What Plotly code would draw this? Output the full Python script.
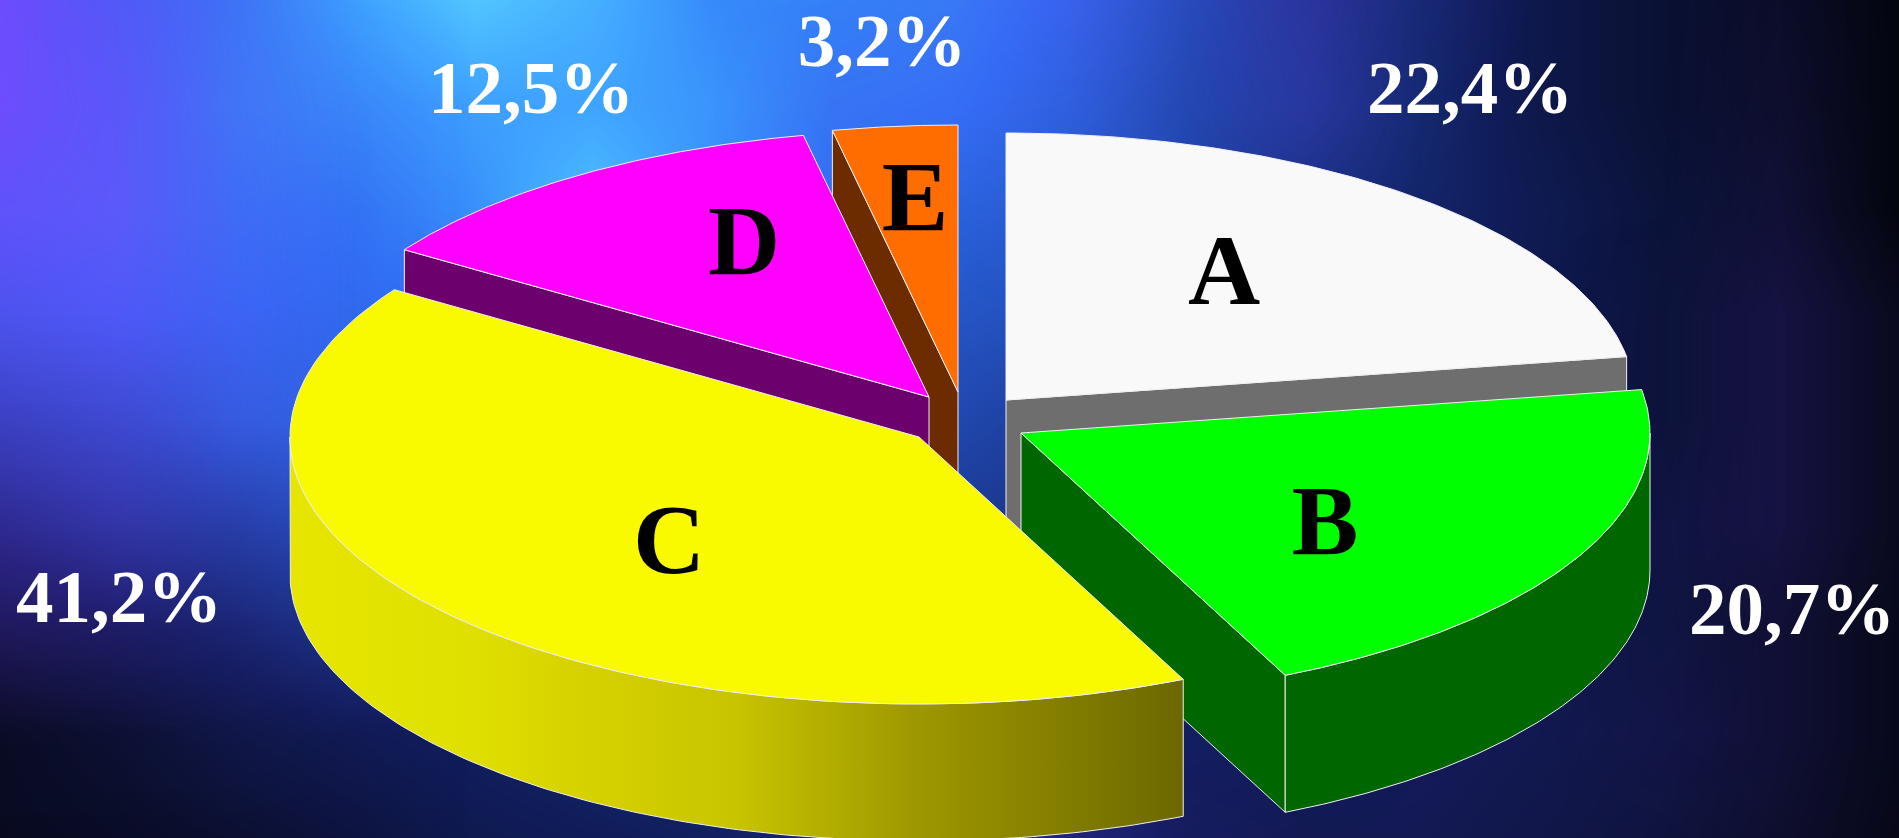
import numpy as np
import plotly.graph_objects as go

# ---- data ----
categories = ["A", "B", "C", "D", "E"]
shares = [22.4, 20.7, 41.2, 12.5, 3.2]

# background brightness (rows top to bottom, cols left to right)
glow = [
    [.60,.62,.66,.78,.95,.85,.70,.66,.66,.58,.44,.32,.26,.16,.10,.05,.00],
    [.62,.64,.68,.70,.78,.80,.74,.64,.62,.54,.42,.34,.26,.16,.10,.05,.00],
    [.62,.66,.64,.62,.72,.92,.72,.60,.54,.50,.40,.30,.24,.18,.12,.06,.00],
    [.55,.60,.60,.58,.60,.70,.60,.53,.48,.44,.36,.28,.22,.17,.11,.07,.02],
    [.40,.46,.54,.56,.52,.50,.45,.42,.42,.36,.30,.26,.20,.16,.11,.07,.02],
    [.24,.32,.38,.46,.48,.40,.35,.35,.35,.32,.27,.25,.20,.16,.12,.07,.02],
    [.10,.16,.24,.32,.30,.30,.30,.28,.28,.26,.24,.22,.20,.16,.12,.06,.02],
    [.04,.08,.14,.18,.22,.25,.28,.25,.25,.24,.21,.21,.19,.16,.12,.06,.02],
    [.03,.05,.08,.12,.18,.20,.22,.24,.22,.23,.19,.17,.17,.14,.11,.05,.01],
]
violet = [
    [1.0,.60,.20,.00,.00,.00,.00,.00,.10,.20,.10,.25,.05,.00,.00,.05,.00],
    [1.0,.70,.25,.05,.00,.00,.00,.10,.10,.10,.05,.20,.00,.00,.00,.08,.00],
    [.80,.70,.25,.05,.00,.00,.00,.05,.00,.05,.00,.05,.00,.00,.00,.10,.00],
    [.55,.55,.25,.05,.00,.00,.00,.00,.00,.00,.00,.00,.00,.00,.03,.15,.05],
    [.40,.40,.20,.05,.00,.00,.00,.00,.00,.00,.00,.00,.00,.00,.03,.15,.05],
    [.35,.35,.15,.05,.00,.00,.00,.00,.00,.00,.00,.00,.00,.03,.05,.15,.05],
    [.25,.20,.10,.05,.00,.00,.00,.00,.00,.00,.00,.00,.03,.03,.05,.10,.03],
    [.05,.05,.05,.03,.00,.00,.00,.00,.00,.00,.03,.03,.05,.05,.08,.10,.03],
    [.03,.03,.03,.03,.00,.00,.00,.10,.20,.20,.08,.05,.05,.05,.05,.08,.03],
]

# ---- styles and geometry ----
W, H = 1899, 838
RX, RY, DEPTH = 629, 267, 137
apex_x = [1006, 1021, 919, 929, 958]
apex_y = [400, 433, 437, 397, 392]
top_colors = ["#f9f9f9", "#00ff00", "#f9f900", "#ff00ff", "#ff6c00"]
side_colors = ["#6e6e6e", "#006600", "#e6e600", "#6c006c", "#6c2c00"]
label_x = [1470, 1792, 119, 531, 882]
label_y = [94, 615, 603, 94, 47]
letter_x = [1224, 1325, 669, 744, 915]
letter_y = [279, 529, 548, 249, 205]
SERIF = "Liberation Serif"
EDGE = dict(color="#f0f0f0", width=1)

edges = np.cumsum([0] + shares) / sum(shares) * 2 * np.pi


def ring(i, a0, a1, dy=0.0, n=120):
    t = np.linspace(a0, a1, n)
    return apex_x[i] + RX * np.sin(t), apex_y[i] - RY * np.cos(t) + dy


def poly(x, y, color, **kw):
    args = dict(fill="toself", fillcolor=color, line=EDGE)
    args.update(kw)
    return go.Scatter(x=list(x) + [x[0]], y=list(y) + [y[0]], mode="lines",
                      hoverinfo="skip", showlegend=False, **args)


fig = go.Figure()

gx = np.linspace(0, W, len(glow[0]))
gy = np.linspace(0, H, len(glow))
fig.add_trace(go.Heatmap(
    x=gx, y=gy, z=glow, zmin=0, zmax=1, zsmooth="best", showscale=False, hoverinfo="skip",
    colorscale=[[0, "#04060e"], [.2, "#101c58"], [.4, "#1f44a8"], [.6, "#2f70f4"],
                [.8, "#3fa4ff"], [1, "#58d0ff"]]))
fig.add_trace(go.Heatmap(
    x=gx, y=gy, z=violet, zmin=0, zmax=1, zsmooth="best", showscale=False, hoverinfo="skip",
    colorscale=[[0, "rgba(110,50,240,0)"], [1, "rgba(120,70,255,0.85)"]]))


def cut_face(i, angle):
    x0, y0 = apex_x[i], apex_y[i]
    x1 = x0 + RX * np.sin(angle)
    y1 = y0 - RY * np.cos(angle)
    return poly([x0, x1, x1, x0], [y0, y1, y1 + DEPTH, y0 + DEPTH], side_colors[i])


def top_face(i):
    x, y = ring(i, edges[i], edges[i + 1])
    return poly([apex_x[i]] + list(x), [apex_y[i]] + list(y), top_colors[i])


def rim(i, a0, a1, **kw):
    x, y = ring(i, a0, a1)
    xb, yb = ring(i, a1, a0, DEPTH)
    return poly(list(x) + list(xb), list(y) + list(yb), side_colors[i], **kw)


# back to front: E, D, A, B, C
fig.add_trace(cut_face(4, edges[4]))
fig.add_trace(top_face(4))
fig.add_trace(cut_face(3, edges[3]))
fig.add_trace(top_face(3))
fig.add_trace(cut_face(0, edges[1]))
fig.add_trace(top_face(0))
fig.add_trace(cut_face(1, edges[2]))
fig.add_trace(rim(1, np.pi / 2, edges[2]))
fig.add_trace(top_face(1))
fig.add_trace(rim(2, edges[2], 1.5 * np.pi, fillgradient=dict(
    type="horizontal",
    colorscale=[[0, "#e6e600"], [.2, "#e0e000"], [.3, "#d8d400"], [.5, "#c8c400"],
                [.7, "#9e9800"], [1, "#6c6800"]])))
fig.add_trace(top_face(2))

fig.add_trace(go.Scatter(
    x=label_x, y=label_y, mode="text", hoverinfo="skip", showlegend=False,
    text=[f"{v:.1f}%".replace(".", ",") for v in shares],
    textposition="middle center",
    textfont=dict(family=SERIF, size=75, color="white", weight="bold")))
fig.add_trace(go.Scatter(
    x=letter_x, y=letter_y, mode="text", hoverinfo="skip", showlegend=False,
    text=categories, textposition="middle center",
    textfont=dict(family=SERIF, size=100, color="black", weight="bold")))

fig.update_layout(
    width=W, height=H, margin=dict(l=0, r=0, t=0, b=0), autosize=False,
    paper_bgcolor="#04060e", plot_bgcolor="#04060e",
    xaxis=dict(range=[0, W], visible=False, fixedrange=True),
    yaxis=dict(range=[H, 0], visible=False, fixedrange=True),
)
fig.write_html("out.html", config=dict(displayModeBar=False),
               post_script="document.body.style.margin='0';document.body.style.overflow='hidden';")
